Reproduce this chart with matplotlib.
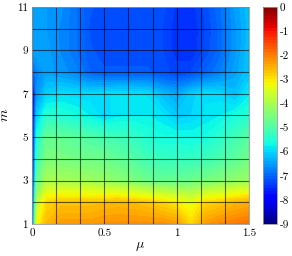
import numpy as np
import matplotlib
matplotlib.use("Agg")
import matplotlib.pyplot as plt

plt.rcParams['mathtext.fontset'] = 'cm'
plt.rcParams['font.family'] = 'cmr10'
plt.rcParams['axes.unicode_minus'] = False

# grid of the data
mu = [0, 0.03, 0.1, 0.2, 0.3, 0.4, 0.5, 0.6, 0.7, 0.8, 0.9, 1.0, 1.1, 1.2, 1.3, 1.4, 1.5]
m = [1, 2, 3, 4, 5, 6, 7, 8, 9, 10, 11]

# log10 of the value, one row per m (bottom to top)
log_err = [
    [-8.0, -3.3, -2.6, -2.3, -2.3, -2.3, -2.2, -2.2, -2.2, -2.2, -2.2, -2.3, -2.9, -2.3, -2.1, -2.0, -1.9],
    [-8.2, -3.9, -2.9, -2.7, -2.7, -2.7, -2.65, -2.6, -2.65, -2.75, -2.9, -3.1, -3.35, -2.9, -2.8, -2.6, -2.5],
    [-8.4, -4.8, -4.0, -4.05, -4.1, -4.15, -4.25, -4.35, -4.5, -4.7, -4.75, -4.75, -4.65, -4.55, -4.45, -4.3, -4.15],
    [-8.5, -5.3, -4.5, -4.55, -4.6, -4.65, -4.7, -4.8, -4.95, -5.15, -5.25, -5.3, -5.3, -5.2, -5.05, -4.85, -4.65],
    [-8.5, -5.6, -4.75, -4.8, -4.9, -5.0, -5.1, -5.2, -5.3, -5.5, -5.6, -5.6, -5.65, -5.6, -5.4, -5.15, -4.9],
    [-8.5, -6.1, -5.4, -5.5, -5.6, -5.75, -5.95, -5.8, -5.75, -5.75, -5.85, -6.1, -6.0, -5.85, -5.75, -5.6, -5.45],
    [-8.4, -6.6, -6.05, -5.9, -5.95, -5.95, -5.9, -5.85, -5.85, -5.9, -6.2, -6.4, -6.05, -5.9, -5.95, -6.2, -5.8],
    [-7.2, -6.7, -6.45, -6.55, -6.7, -7.0, -7.1, -7.1, -7.1, -7.1, -7.2, -7.3, -7.25, -7.0, -6.75, -6.45, -6.15],
    [-6.4, -6.4, -6.45, -6.65, -6.85, -7.1, -7.2, -7.2, -7.2, -7.2, -7.25, -7.45, -7.5, -7.2, -6.95, -6.55, -6.15],
    [-6.45, -6.45, -6.5, -6.65, -6.85, -7.15, -7.2, -7.2, -7.2, -7.2, -7.25, -7.45, -7.5, -7.25, -6.95, -6.55, -6.2],
    [-6.4, -6.45, -6.5, -6.6, -6.85, -7.1, -7.2, -7.2, -7.2, -7.15, -7.2, -7.4, -7.45, -7.2, -6.9, -6.5, -6.15],
]

x_ticks = [0, 0.5, 1, 1.5]
x_ticklabels = ["0", "0.5", "1", "1.5"]
y_ticks = [1, 3, 5, 7, 9, 11]
cb_ticks = [0, -1, -2, -3, -4, -5, -6, -7, -8, -9]

X, Y = np.meshgrid(mu, m)
Z = np.array(log_err)

fig = plt.figure(figsize=(2.92, 2.56), dpi=100)
ax = fig.add_axes([32/292, 32/256, 217/292, 217/256])
cax = fig.add_axes([263/292, 32/256, 14/292, 217/256])

levels = np.linspace(-9, 0, 73)
cs = ax.contourf(X, Y, Z, levels=levels, cmap='jet', vmin=-9, vmax=0)

# mesh lines
for xv in np.arange(0, 1.5001, 1/6):
    ax.axvline(xv, color='k', lw=0.8, alpha=0.6)
for yv in m:
    ax.axhline(yv, color='k', lw=0.8, alpha=0.6)

ax.set_xlim(0, 1.5)
ax.set_ylim(1, 11)
ax.set_xticks(x_ticks)
ax.set_xticklabels(x_ticklabels)
ax.set_yticks(y_ticks)
ax.set_yticklabels([str(v) for v in y_ticks])
ax.tick_params(labelsize=8, length=0, pad=3)
ax.set_xlabel(r'$\mu$', fontsize=10, labelpad=2)
ax.set_ylabel(r'$m$', fontsize=10, labelpad=4)
for s in ax.spines.values():
    s.set_color('#999999')
    s.set_linewidth(0.6)

cb = fig.colorbar(cs, cax=cax, ticks=cb_ticks)
cb.ax.set_yticklabels([str(v) for v in cb_ticks])
cb.ax.tick_params(labelsize=8, length=0, pad=2)
cb.outline.set_edgecolor('#999999')
cb.outline.set_linewidth(0.6)

fig.savefig("out.png", dpi=100)
